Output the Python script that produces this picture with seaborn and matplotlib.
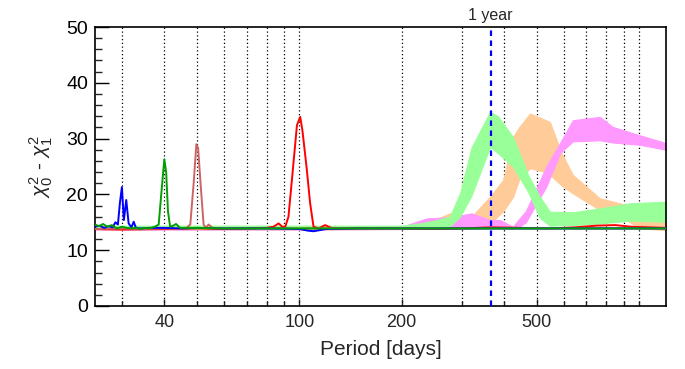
import numpy as np
import pandas as pd
import matplotlib
matplotlib.use("Agg")
import matplotlib.pyplot as plt
from matplotlib.ticker import FixedLocator, NullFormatter, MultipleLocator
import seaborn as sns

# ---------------- data ----------------
blue_p = [25, 25.8, 26.6, 27.4, 28.2, 28.7, 29.2, 29.6, 30.0, 30.4, 30.9, 31.4, 32.0, 32.5, 33.0, 34, 36, 40, 45, 50, 60,
          80, 100, 106, 110, 120, 150, 200, 300, 500, 800, 1200]
blue_v = [14.2, 14.4, 14.0, 14.3, 14.1, 15.0, 14.6, 18.5, 21.3, 15.4, 19.0, 14.8, 14.1, 15.1, 14.0, 13.9, 14.0, 14.0, 13.9,
          14.0, 13.9, 13.9, 13.8, 13.5, 13.4, 13.8, 13.9, 13.9, 13.9, 13.9, 13.9, 13.9]

green_p = [25, 25.7, 26.4, 27.2, 28, 29, 30, 31, 32, 33, 34, 35, 36, 37.5, 38.5, 39.3, 40.0, 40.5, 41.0, 41.6, 42.5,
           43.3, 44.5, 50, 60, 80, 100, 150, 200, 300, 500, 700, 900, 1200]
green_v = [14.6, 14.3, 14.7, 14.2, 14.5, 13.9, 14.2, 14.0, 13.9, 14.0, 13.8, 14.0, 13.9, 14.2, 14.6, 21.0, 26.3, 24.0,
           17.0, 14.2, 14.4, 14.7, 14.0, 14.0, 13.9, 13.9, 13.9, 13.9, 13.9, 13.9, 13.9, 13.9, 13.9, 13.9]

brown_p = [25, 30, 35, 40, 44, 46.5, 47.7, 48.8, 49.7, 50.3, 51.2, 52.2, 53, 54, 55.5, 60, 80, 100, 200, 500, 1200]
brown_v = [13.8, 13.9, 13.8, 13.9, 13.8, 14.0, 14.6, 22.0, 29.0, 28.3, 21.5, 14.6, 14.0, 14.6, 14.0, 13.9, 13.9, 13.9,
           13.9, 13.9, 13.9]

red_p = [25, 30, 40, 50, 60, 70, 80, 83.8, 86.8, 89, 90.8, 92.8, 95, 98.3, 100.5, 102, 105, 107.5, 110, 114, 119, 124,
         130, 150, 200, 250, 300, 365, 450, 550, 650, 750, 850, 950, 1200]
red_v = [13.8, 13.7, 13.8, 13.9, 13.8, 13.9, 14.0, 14.2, 14.8, 14.2, 14.2, 16.0, 22.6, 32.4, 33.9, 31.5, 24.7, 18.4, 14.2,
         13.9, 14.5, 14.0, 13.9, 13.9, 13.9, 13.8, 13.9, 14.1, 14.0, 13.9, 14.1, 14.4, 14.5, 14.2, 14.0]

peach_p = [25, 100, 200, 242, 277, 321, 364, 398, 425, 443, 477, 522, 546, 591, 638, 766, 918, 1004, 1200]
peach_hi = [14.0, 14.0, 14.1, 15.1, 16.6, 16.0, 19.6, 22.6, 30.3, 32.0, 34.5, 33.5, 33.0, 27.4, 23.5, 19.3, 18.1, 17.2, 15.0]
peach_lo = [13.7, 13.7, 13.8, 13.9, 13.9, 13.9, 14.8, 17.0, 19.5, 22.6, 24.7, 24.1, 23.5, 21.6, 20.2, 17.2, 15.4, 13.9, 13.6]

pink_p = [25, 100, 200, 237, 277, 321, 364, 390, 425, 446, 464, 533, 585, 638, 766, 836, 1004, 1200]
pink_hi = [14.1, 14.1, 14.2, 15.7, 15.9, 16.6, 15.4, 15.4, 14.2, 15.8, 17.0, 25.0, 29.2, 33.3, 33.9, 32.1, 30.6, 29.2]
pink_lo = [13.7, 13.7, 13.8, 13.9, 13.9, 14.0, 14.0, 14.0, 13.9, 14.3, 15.0, 21.4, 27.4, 29.5, 29.7, 29.3, 28.9, 28.0]

lgreen_p = [25, 100, 200, 226, 250, 277, 297, 321, 364, 384, 425, 471, 510, 546, 638, 766, 939, 1200]
lgreen_hi = [14.4, 14.4, 14.4, 14.8, 15.3, 16.0, 20.2, 28.4, 34.8, 34.0, 30.3, 23.5, 19.6, 16.9, 16.8, 17.5, 18.4, 18.7]
lgreen_lo = [13.8, 13.8, 13.9, 14.0, 14.1, 14.3, 16.0, 19.8, 28.5, 27.4, 25.0, 20.5, 15.8, 14.4, 14.5, 14.8, 15.3, 15.1]

year_days = 365.25
x_major = [40, 100, 200, 500]
x_minor = [30, 50, 60, 70, 80, 90, 300, 400, 600, 700, 800, 900, 1000]
x_grid = [30, 40, 50, 60, 70, 80, 90, 100, 200, 300, 400, 500, 600, 700, 800, 900, 1000]

# ---------------- plot ----------------
sns.set_theme(style="ticks")
plt.rcParams['font.family'] = ['Liberation Sans', 'DejaVu Sans']
plt.rcParams['mathtext.fontset'] = 'custom'
plt.rcParams['mathtext.rm'] = 'Liberation Sans'
plt.rcParams['mathtext.it'] = 'Liberation Sans:italic'

fig = plt.figure(figsize=(6.85, 3.69), dpi=100)
ax = fig.add_axes([95 / 685, 63 / 369, (666 - 95) / 685, (306 - 27) / 369])

# bands
for p, lo, hi, col in [(peach_p, peach_lo, peach_hi, "#ffcc99"),
                       (pink_p, pink_lo, pink_hi, "#ff99ff"),
                       (lgreen_p, lgreen_lo, lgreen_hi, "#99ff99")]:
    ax.fill_between(p, lo, hi, color=col, linewidth=0.8, edgecolor=col, zorder=2)

# lines
for p, v, col in [(red_p, red_v, "#ff0000"),
                  (brown_p, brown_v, "#cd6464"),
                  (blue_p, blue_v, "#0000ff"),
                  (green_p, green_v, "#00a000")]:
    df = pd.DataFrame({"period": p, "val": v})
    sns.lineplot(data=df, x="period", y="val", color=col, linewidth=1.4, ax=ax,
                 estimator=None, sort=False, zorder=3)

ax.set_xscale("log")
ax.set_xlim(25, 1200)
ax.set_ylim(0, 50)

for g in x_grid:
    ax.axvline(g, color="black", linestyle=(0, (1, 2)), linewidth=0.9, zorder=1)

ax.axvline(year_days, color="#0000ff", linestyle=(0, (2.5, 2)), linewidth=1.6, zorder=4)
ax.annotate("1 year", xy=(year_days, 1.0), xycoords=("data", "axes fraction"),
            xytext=(0, 3), textcoords="offset points", ha="center", va="bottom", fontsize=11.5)

ax.xaxis.set_major_locator(FixedLocator(x_major))
ax.xaxis.set_minor_locator(FixedLocator(x_minor))
ax.xaxis.set_minor_formatter(NullFormatter())
ax.set_xticklabels([str(t) for t in x_major])
ax.yaxis.set_major_locator(MultipleLocator(10))
ax.yaxis.set_minor_locator(MultipleLocator(2))

ax.tick_params(axis="y", which="major", direction="in", length=10, width=1, labelsize=14, pad=5, colors="black")
ax.tick_params(axis="y", which="minor", direction="in", length=5, width=1)
ax.tick_params(axis="x", which="major", direction="in", length=5, width=1, labelsize=13, pad=6)
ax.tick_params(axis="x", which="minor", direction="in", length=3.5, width=1)

for s in ax.spines.values():
    s.set_color("black")
    s.set_linewidth(1.2)

ax.set_xlabel("Period [days]", fontsize=15, labelpad=6)
ax.set_ylabel(r"$\chi^2_0$ - $\chi^2_1$", fontsize=15, labelpad=8)

fig.savefig("out.png", dpi=100)
